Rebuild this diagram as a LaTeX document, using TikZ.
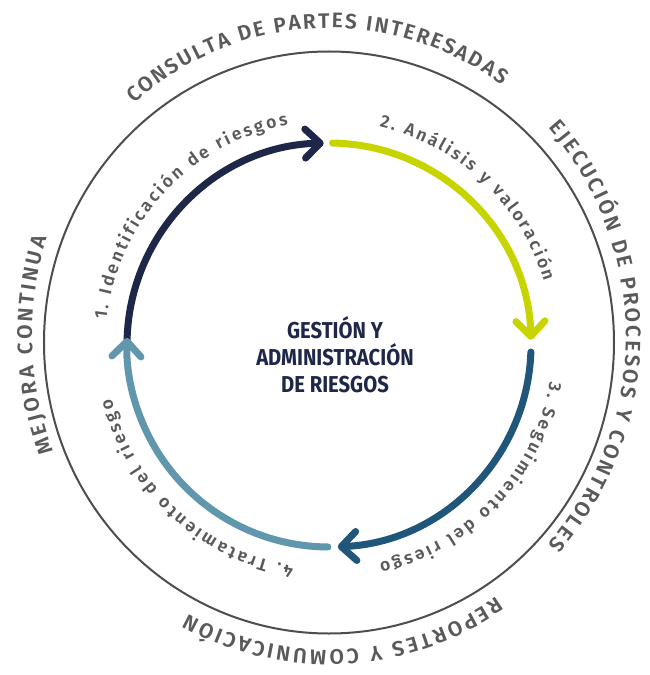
\documentclass[tikz,border=0pt]{standalone}
\usepackage{fontspec}
\setmainfont{Fira Sans}
\newfontfamily\lblfont{Fira Sans}[UprightFont={* SemiBold}]
\newfontfamily\titlefont{Fira Sans}[FakeStretch=0.88]
\usepackage{tikz}
\usetikzlibrary{arrows.meta, decorations.text}
\definecolor{stepnavy}{HTML}{1E2748}
\definecolor{steplime}{HTML}{C8D400}
\definecolor{stepteal}{HTML}{1F5679}
\definecolor{stepsky}{HTML}{6097AC}
\definecolor{ringgray}{HTML}{4D4D4D}
\definecolor{lblgray}{HTML}{5A5A5A}
\newcommand\outerlbl{\lblfont\fontsize{21}{24}\selectfont\color{lblgray}}
\newcommand\innerlbl{\lblfont\fontsize{17.5}{20}\selectfont\color{lblgray}}
\tikzset{
	ring/.append style={
		draw=ringgray,
		line width=2pt,
	},
	steparc/.append style={
		line width=7pt,
		line cap=round,
		-{Straight Barb[round, length=15pt, width=29pt]},
	},
	curvelbl/.append style={
		decorate,
		decoration={text along path, text align={fit to path}},
	},
	titlelbl/.append style={
		align=center,
		text=stepnavy,
		font={\titlefont\bfseries\fontsize{23}{27}\selectfont},
	},
}

\begin{document}
\begin{tikzpicture}[x=1pt, y=1pt]
\useasboundingbox (-329,-330) rectangle (321,345);

\draw[ring] (0,2.5) ellipse[x radius=285, y radius=291];

\node(centre)[titlelbl] at (6,-10) {GESTIÓN Y\\ADMINISTRACIÓN\\DE RIESGOS};


\def\rarc{202}
\foreach \ii/\sa/\ea/\col in {1/180.5/91.5/stepnavy, 2/89/1.5/steplime, 3/-2/-87.5/stepteal, 4/-90.3/-182/stepsky} {
	\coordinate(S\ii) at (\sa:\rarc);
	\draw[steparc, draw=\col] (S\ii) arc[start angle=\sa, end angle=\ea, radius=\rarc];
};


% outer ring labels
\path[curvelbl, shift={(0,9)}, decoration={text={|\outerlbl|CONSULTA DE PARTES INTERESADAS}}]
	(131:297 and 308) arc[start angle=131, end angle=54.5, x radius=297, y radius=308];
\path[curvelbl, shift={(0,9)}, decoration={text={|\outerlbl|EJECUCIÓN DE PROCESOS Y CONTROLES}}]
	(42.5:297 and 308) arc[start angle=42.5, end angle=-42.5, x radius=297, y radius=308];
\path[curvelbl, shift={(0,6)}, decoration={text={|\outerlbl|REPORTES Y COMUNICACIÓN}}]
	(-56:300 and 311) arc[start angle=-56, end angle=-118, x radius=300, y radius=311];
\path[curvelbl, shift={(0,9)}, decoration={text={|\outerlbl|MEJORA CONTINUA}}]
	(202:297 and 308) arc[start angle=202, end angle=161.5, x radius=297, y radius=308];

% step labels
\def\rlbl{224}
\path[curvelbl, decoration={text={|\innerlbl|1. Identificación de riesgos}}]
	(173.5:\rlbl) arc[start angle=173.5, end angle=100.5, radius=\rlbl];
\path[curvelbl, decoration={text={|\innerlbl|2. Análisis y valoración}}]
	(77:\rlbl) arc[start angle=77, end angle=16.5, radius=\rlbl];
\path[curvelbl, decoration={text={|\innerlbl|3. Seguimiento del riesgo}}]
	(-9.5:\rlbl) arc[start angle=-9.5, end angle=-77, radius=\rlbl];
\path[curvelbl, decoration={text={|\innerlbl|4. Tratamiento del riesgo}}]
	(-99:\rlbl) arc[start angle=-99, end angle=-166, radius=\rlbl];

\end{tikzpicture}
\end{document}
